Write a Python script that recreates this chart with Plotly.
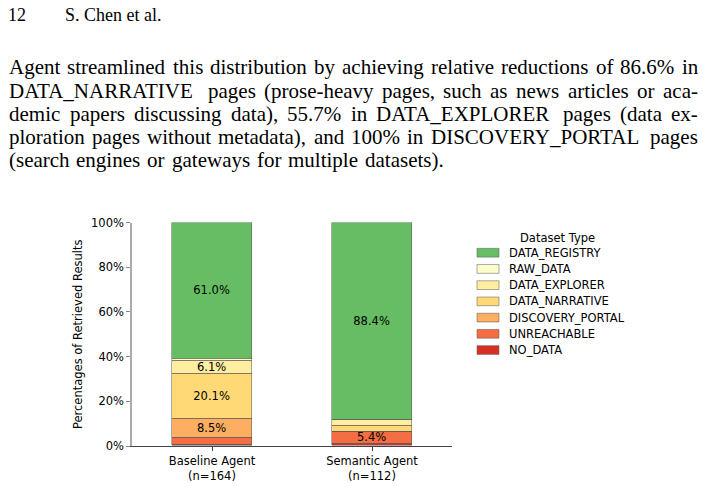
import plotly.graph_objects as go

W, H = 703, 487

# ---- data ----
agents = ["Baseline Agent<br>(n=164)", "Semantic Agent<br>(n=112)"]
types = ["NO_DATA", "UNREACHABLE", "DISCOVERY_PORTAL", "DATA_NARRATIVE",
         "DATA_EXPLORER", "RAW_DATA", "DATA_REGISTRY"]
baseline_pct = [0.6, 3.0, 8.5, 20.1, 6.1, 0.6, 61.0]
semantic_pct = [0.9, 5.4, 0.0, 2.7, 2.7, 0.0, 88.4]
colors = ["#d73027", "#f46d43", "#fdae61", "#fed976", "#ffeda0", "#ffffcc", "#66bd63"]
ytick_vals = [0, 20, 40, 60, 80, 100]
ytick_text = ["0%", "20%", "40%", "60%", "80%", "100%"]

header_page = "12"
header_author = "S. Chen et al."
paragraph_lines = [
    "Agent streamlined this distribution by achieving relative reductions of 86.6% in",
    "DATA_NARRATIVE pages (prose-heavy pages, such as news articles or aca-",
    "demic papers discussing data), 55.7% in DATA_EXPLORER pages (data ex-",
    "ploration pages without metadata), and 100% in DISCOVERY_PORTAL pages",
    "(search engines or gateways for multiple datasets).",
]

fig = go.Figure()
for i, t in enumerate(types):
    vals = [baseline_pct[i], semantic_pct[i]]
    txt = [f"{v:.1f}%" if v >= 5 else "" for v in vals]
    fig.add_trace(go.Bar(
        x=[0, 1], y=vals, name=t, width=0.5,
        marker=dict(color=colors[i], line=dict(color="rgba(90,90,90,0.65)", width=0.8)),
        text=txt, textposition="inside", insidetextanchor="middle", textangle=0,
        textfont=dict(family="DejaVu Sans", size=11.5, color="black"),
        showlegend=False, hoverinfo="skip",
    ))

x0, x1 = 132 / W, 452 / W
y0, y1 = 1 - 452 / H, 1 - 222 / H

fig.update_layout(
    width=W, height=H, margin=dict(l=0, r=0, t=0, b=0),
    paper_bgcolor="white", plot_bgcolor="white",
    barmode="stack", bargap=0,
    uniformtext=dict(minsize=11, mode="show"),
    font=dict(family="DejaVu Sans", size=11.5, color="black"),
    xaxis=dict(domain=[x0, x1], range=[-0.5, 1.5], tickvals=[0, 1], ticktext=agents,
               showline=True, linecolor="#444", linewidth=1, ticks="outside",
               ticklen=4, tickcolor="#444", showgrid=False, zeroline=False,
               tickfont=dict(size=11.5, family="DejaVu Sans")),
    yaxis=dict(domain=[y0, y1], range=[0, 100], tickvals=ytick_vals, ticktext=ytick_text,
               showline=True, linecolor="#aaaaaa", linewidth=1.5, ticks="outside",
               ticklen=4, tickcolor="#888", showgrid=False, zeroline=False,
               tickfont=dict(size=11.5, family="DejaVu Sans"),
               title=dict(text="Percentages of Retrieved Results", standoff=6,
                          font=dict(size=11.5, family="DejaVu Sans"))),
)

# ---- manual legend ----
leg_x = 477
leg_title_y = 238
leg_y0 = 253
leg_dy = 16.7
fig.add_annotation(x=557 / W, y=1 - leg_title_y / H, xref="paper", yref="paper",
                   text="Dataset Type", showarrow=False, xanchor="center", yanchor="middle",
                   font=dict(size=11.5, family="DejaVu Sans"))
for k, i in enumerate(reversed(range(len(types)))):
    yc = leg_y0 + k * leg_dy
    fig.add_shape(type="rect", xref="paper", yref="paper",
                  x0=leg_x / W, x1=(leg_x + 22) / W,
                  y0=1 - (yc + 4.5) / H, y1=1 - (yc - 4.5) / H,
                  fillcolor=colors[i], line=dict(color="rgba(90,90,90,0.65)", width=0.8))
    fig.add_annotation(x=(leg_x + 30) / W, y=1 - yc / H, xref="paper", yref="paper",
                       text=types[i], showarrow=False, xanchor="left", yanchor="middle",
                       font=dict(size=11.5, family="DejaVu Sans"))

# ---- page text (justified using Times/Liberation Serif advance widths) ----
serif = "Liberation Serif"
TW = {' ': 250, '.': 250, ',': 250, '%': 833, '(': 333, ')': 333, '-': 333, '_': 500,
      'a': 444, 'b': 500, 'c': 444, 'd': 500, 'e': 444, 'f': 333, 'g': 500, 'h': 500,
      'i': 278, 'j': 278, 'k': 500, 'l': 278, 'm': 778, 'n': 500, 'o': 500, 'p': 500,
      'q': 500, 'r': 333, 's': 389, 't': 278, 'u': 500, 'v': 500, 'w': 722, 'x': 500,
      'y': 500, 'z': 444, 'A': 722, 'B': 667, 'C': 667, 'D': 722, 'E': 611, 'F': 556,
      'G': 722, 'H': 722, 'I': 333, 'J': 389, 'K': 722, 'L': 611, 'M': 889, 'N': 722,
      'O': 722, 'P': 556, 'Q': 722, 'R': 667, 'S': 556, 'T': 611, 'U': 722, 'V': 722,
      'W': 944, 'X': 722, 'Y': 722, 'Z': 611}


def tw(s, fs):
    return sum(TW.get(c, 500) for c in s) * fs / 1000.0


fs_body = 21
left, right = 8, 697
for j, line in enumerate(paragraph_lines):
    yc = 1 - (62 + 24 * j) / H
    words = line.split(" ")
    widths = [tw(w, fs_body) for w in words]
    if j < len(paragraph_lines) - 1:
        gap = (right - left - sum(widths)) / (len(words) - 1)
    else:
        gap = tw(" ", fs_body) * 1.3
    xpos = left
    for w, wd in zip(words, widths):
        fig.add_annotation(x=xpos / W, y=yc, xref="paper", yref="paper", text=w,
                           showarrow=False, xanchor="left", yanchor="middle",
                           borderpad=0, font=dict(size=fs_body, family=serif))
        xpos += wd + gap

fig.add_annotation(x=7 / W, y=1 - 8 / H, xref="paper", yref="paper", text=header_page,
                   showarrow=False, xanchor="left", yanchor="middle", borderpad=0,
                   font=dict(size=18, family=serif))
fig.add_annotation(x=64 / W, y=1 - 8 / H, xref="paper", yref="paper", text=header_author,
                   showarrow=False, xanchor="left", yanchor="middle", borderpad=0,
                   font=dict(size=18, family=serif))

fig.write_html("out.html")
